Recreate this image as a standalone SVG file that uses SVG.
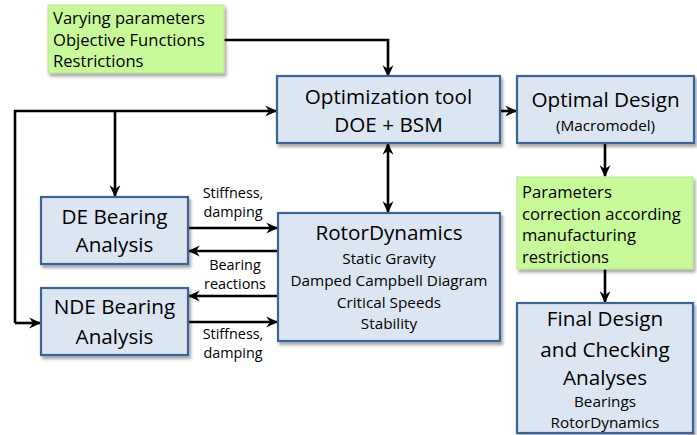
<svg xmlns="http://www.w3.org/2000/svg" width="697" height="435" viewBox="0 0 697 435">
  <style>
    text { font-family: "Open Sans", "Noto Sans", "DejaVu Sans", sans-serif; fill: #000; }
    .blue { fill: #dce6f2; stroke: #3e6496; stroke-width: 2.2; filter: url(#shadow); }
    .green { fill: #c8fa9a; stroke: #b4e48a; stroke-width: 1; filter: url(#shadow); }
    .big { font-size: 20.7px; text-anchor: middle; }
    .mid { font-size: 15.3px; text-anchor: middle; }
    .sm { font-size: 14.4px; text-anchor: middle; }
    .gt { font-size: 16.6px; }
    .wire { fill: none; stroke: #000; stroke-width: 2.6; }
  </style>
  <defs>
    <filter id="shadow" x="-10%" y="-10%" width="125%" height="130%">
      <feGaussianBlur in="SourceAlpha" stdDeviation="1.6"/>
      <feOffset dx="2" dy="2.5" result="b"/>
      <feComponentTransfer><feFuncA type="linear" slope="0.35"/></feComponentTransfer>
      <feMerge><feMergeNode/><feMergeNode in="SourceGraphic"/></feMerge>
    </filter>
    <marker id="arr" viewBox="0 0 10 10" refX="9" refY="5" markerWidth="12" markerHeight="12" orient="auto-start-reverse" markerUnits="userSpaceOnUse">
      <path d="M0,0.5 L10,5 L0,9.5 L3.2,5 Z" fill="#000"/>
    </marker>
  </defs>

  <!-- connectors -->
  <g id="connectors" class="wire">
    <path d="M224,40 H388 V76" marker-end="url(#arr)"/>
    <path d="M15,323 V111 H276" marker-end="url(#arr)"/>
    <path d="M15,323 H40" marker-end="url(#arr)"/>
    <path d="M115,111 V196" marker-end="url(#arr)"/>
    <path d="M388,144 V212" marker-start="url(#arr)" marker-end="url(#arr)"/>
    <path d="M500,111 H516" marker-end="url(#arr)"/>
    <path d="M605,143 V176" marker-end="url(#arr)"/>
    <path d="M605,269 V302" marker-end="url(#arr)"/>
    <path d="M189,228 H277" marker-end="url(#arr)"/>
    <path d="M278,251 H189" marker-end="url(#arr)"/>
    <path d="M278,296 H189" marker-end="url(#arr)"/>
    <path d="M189,322 H277" marker-end="url(#arr)"/>
  </g>

  <!-- connector labels -->
  <g id="labels">
    <text class="sm" x="233" y="198">Stiffness,</text>
    <text class="sm" x="233" y="217">damping</text>
    <text class="sm" x="235" y="270">Bearing</text>
    <text class="sm" x="235" y="289">reactions</text>
    <text class="sm" x="233" y="339">Stiffness,</text>
    <text class="sm" x="233" y="358">damping</text>
  </g>

  <g id="inputs">
    <rect class="green" x="48" y="5" width="176" height="68"/>
    <text class="gt" x="53" y="24">Varying parameters</text>
    <text class="gt" x="53" y="46">Objective Functions</text>
    <text class="gt" x="53" y="67">Restrictions</text>
  </g>

  <g id="optimization-tool">
    <rect class="blue" x="277" y="76" width="223" height="67"/>
    <text class="big" x="388.5" y="104">Optimization tool</text>
    <text class="big" x="388.5" y="132">DOE + BSM</text>
  </g>

  <g id="optimal-design">
    <rect class="blue" x="517" y="76" width="177" height="67"/>
    <text class="big" x="605.5" y="107">Optimal Design</text>
    <text class="mid" x="605.5" y="131">(Macromodel)</text>
  </g>

  <g id="parameters-correction">
    <rect class="green" x="517" y="177" width="176" height="92"/>
    <text class="gt" x="522" y="198">Parameters</text>
    <text class="gt" x="522" y="220">correction according</text>
    <text class="gt" x="522" y="241">manufacturing</text>
    <text class="gt" x="522" y="263">restrictions</text>
  </g>

  <g id="final-design">
    <rect class="blue" x="517" y="303" width="176" height="130"/>
    <text class="big" x="605" y="326">Final Design</text>
    <text class="big" x="605" y="357">and Checking</text>
    <text class="big" x="605" y="385">Analyses</text>
    <text class="mid" x="605" y="407">Bearings</text>
    <text class="mid" x="605" y="428">RotorDynamics</text>
  </g>

  <g id="de-bearing">
    <rect class="blue" x="41" y="197" width="147" height="67"/>
    <text class="big" x="114.5" y="224">DE Bearing</text>
    <text class="big" x="114.5" y="252">Analysis</text>
  </g>

  <g id="nde-bearing">
    <rect class="blue" x="41" y="288" width="147" height="67"/>
    <text class="big" x="114.5" y="314">NDE Bearing</text>
    <text class="big" x="114.5" y="344">Analysis</text>
  </g>

  <g id="rotordynamics">
    <rect class="blue" x="278" y="213" width="222" height="128"/>
    <text class="big" x="389" y="240">RotorDynamics</text>
    <text class="mid" x="389" y="264">Static Gravity</text>
    <text class="mid" x="389" y="286">Damped Campbell Diagram</text>
    <text class="mid" x="389" y="308">Critical Speeds</text>
    <text class="mid" x="389" y="329">Stability</text>
  </g>
</svg>
